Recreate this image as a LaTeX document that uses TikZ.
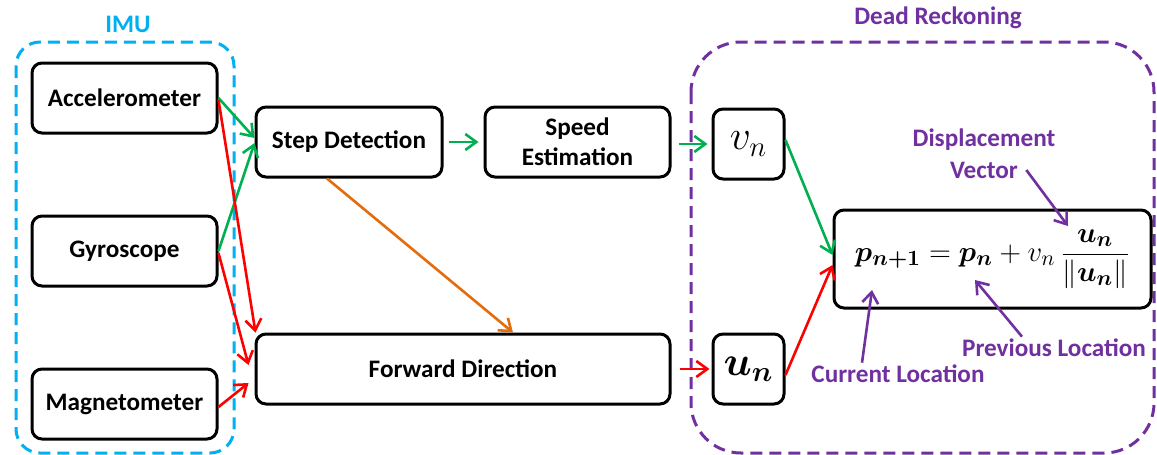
\documentclass[tikz,border=0pt]{standalone}
\usepackage{amsmath}
\usepackage{fontspec}
\setmainfont{Carlito}
\usepackage{xcolor}
\definecolor{imucyan}{HTML}{00B0F0}
\definecolor{drpurple}{HTML}{7030A0}
\definecolor{flowgreen}{HTML}{00B050}
\definecolor{flowred}{HTML}{FF0000}
\definecolor{floworange}{HTML}{E46C0A}
\usetikzlibrary{
  arrows.meta,
  positioning,
  calc,
}

\begin{document}
\begin{tikzpicture}[
  x=0.5pt, y=-0.5pt,
  block/.style={rectangle, draw, line width=1.5pt, rounded corners=5pt, minimum width=92.5pt, minimum height=35pt, inner sep=2pt, font=\fontsize{12.6}{15}\selectfont\bfseries, align=center},
  mathbox/.style={block, minimum width=35.5pt, font=\fontsize{20}{24}\selectfont},
  group/.style={line width=1.5pt, dash pattern=on 6pt off 3.5pt},
  title/.style={font=\fontsize{12.6}{15}\selectfont\bfseries},
  lbl/.style={font=\fontsize{12.6}{15}\selectfont\bfseries, text=drpurple, align=center, inner sep=1pt},
  arr/.style={-{Straight Barb[length=5.5pt,width=8pt]}, line width=1.3pt},
  lblarr/.style={arr, color=drpurple},
]
  \useasboundingbox (0,0) rectangle (1157,455);

  % Groups
  \draw[group, imucyan, rounded corners=12pt] (16,42) rectangle (234,453);
  \node[title, text=imucyan] (imu) at (128,24) {IMU};
  \draw[group, drpurple, rounded corners=25pt] (691,42) rectangle (1154,453);
  \node[title, text=drpurple] (dr) at (938,18) {Dead Reckoning};

  % Sensors
  \node[block] (acc) at (124.5,98) {Accelerometer};
  \node[block] (gyro) at (124.5,251) {Gyroscope};
  \node[block] (mag) at (124.5,404) {Magnetometer};

  % Processing
  \node[block, minimum width=93pt] (step) at (349,142) {Step Detection};
  \node[block] (speed) at (577.5,142) {Speed\\Estimation};
  \node[block, minimum width=207pt] (fwd) at (463,369) {Forward Direction};

  % Dead reckoning
  \node[mathbox] (vn) at (748.5,144) {$v_n$};
  \node[mathbox] (un) at (748.5,369) {$\boldsymbol{u_n}$};
  \node[mathbox, minimum width=158.5pt, minimum height=49pt, font=\fontsize{15.6}{18}\selectfont] (formula) at (992.5,259)
    {$\boldsymbol{p_{n+1}} = \boldsymbol{p_n} + v_n\,\dfrac{\boldsymbol{u_n}}{\lVert\boldsymbol{u_n}\rVert}$};

  % Labels
  \node[lbl] (disp) at (984,140) {Displacement};
  \node[lbl] (vec) at (984,170) {Vector};
  \node[lbl] (prev) at (1054,348) {Previous Location};
  \node[lbl] (cur) at (898,374) {Current Location};
  \coordinate (dispTip) at (1068,226);
  \coordinate (prevTip) at (975,280);
  \coordinate (curTip) at (872,290);

  % Arrows
  \draw[arr, flowgreen] (acc.east) -- ([yshift=2pt]step.west);
  \draw[arr, flowgreen] (gyro.east) -- ([yshift=-0.5pt]step.west);
  \draw[arr, flowred] ([yshift=-1pt]acc.east) -- ([xshift=0.5pt]fwd.north west);
  \draw[arr, flowred] ([yshift=-1pt]gyro.east) -- ([xshift=-3pt,yshift=2pt]fwd.west);
  \draw[arr, flowred] ([yshift=-1.5pt]mag.east) -- ([xshift=-3pt,yshift=-7pt]fwd.west);
  \draw[arr, floworange] ([xshift=-11pt]step.south) -- ([xshift=25pt]fwd.north);

  \draw[arr, flowgreen, shorten <=2.5pt, shorten >=2.5pt] (step) -- (speed);
  \draw[arr, flowgreen, shorten <=3.5pt, shorten >=2pt] (speed.east |- vn) -- (vn);
  \draw[arr, flowred, shorten <=4pt, shorten >=1pt] (fwd) -- (un);

  \draw[arr, flowgreen] ([yshift=2pt]vn.east) -- ([yshift=2pt]formula.west);
  \draw[arr, flowred] ([yshift=-3pt]un.east) -- ([yshift=-3pt]formula.west);

  \draw[lblarr] ([xshift=3pt]vec.east) -- (dispTip);
  \draw[lblarr] ([xshift=-16pt]prev.north) -- (prevTip);
  \draw[lblarr] ([xshift=-18pt]cur.north) -- (curTip);

\end{tikzpicture}
\end{document}
